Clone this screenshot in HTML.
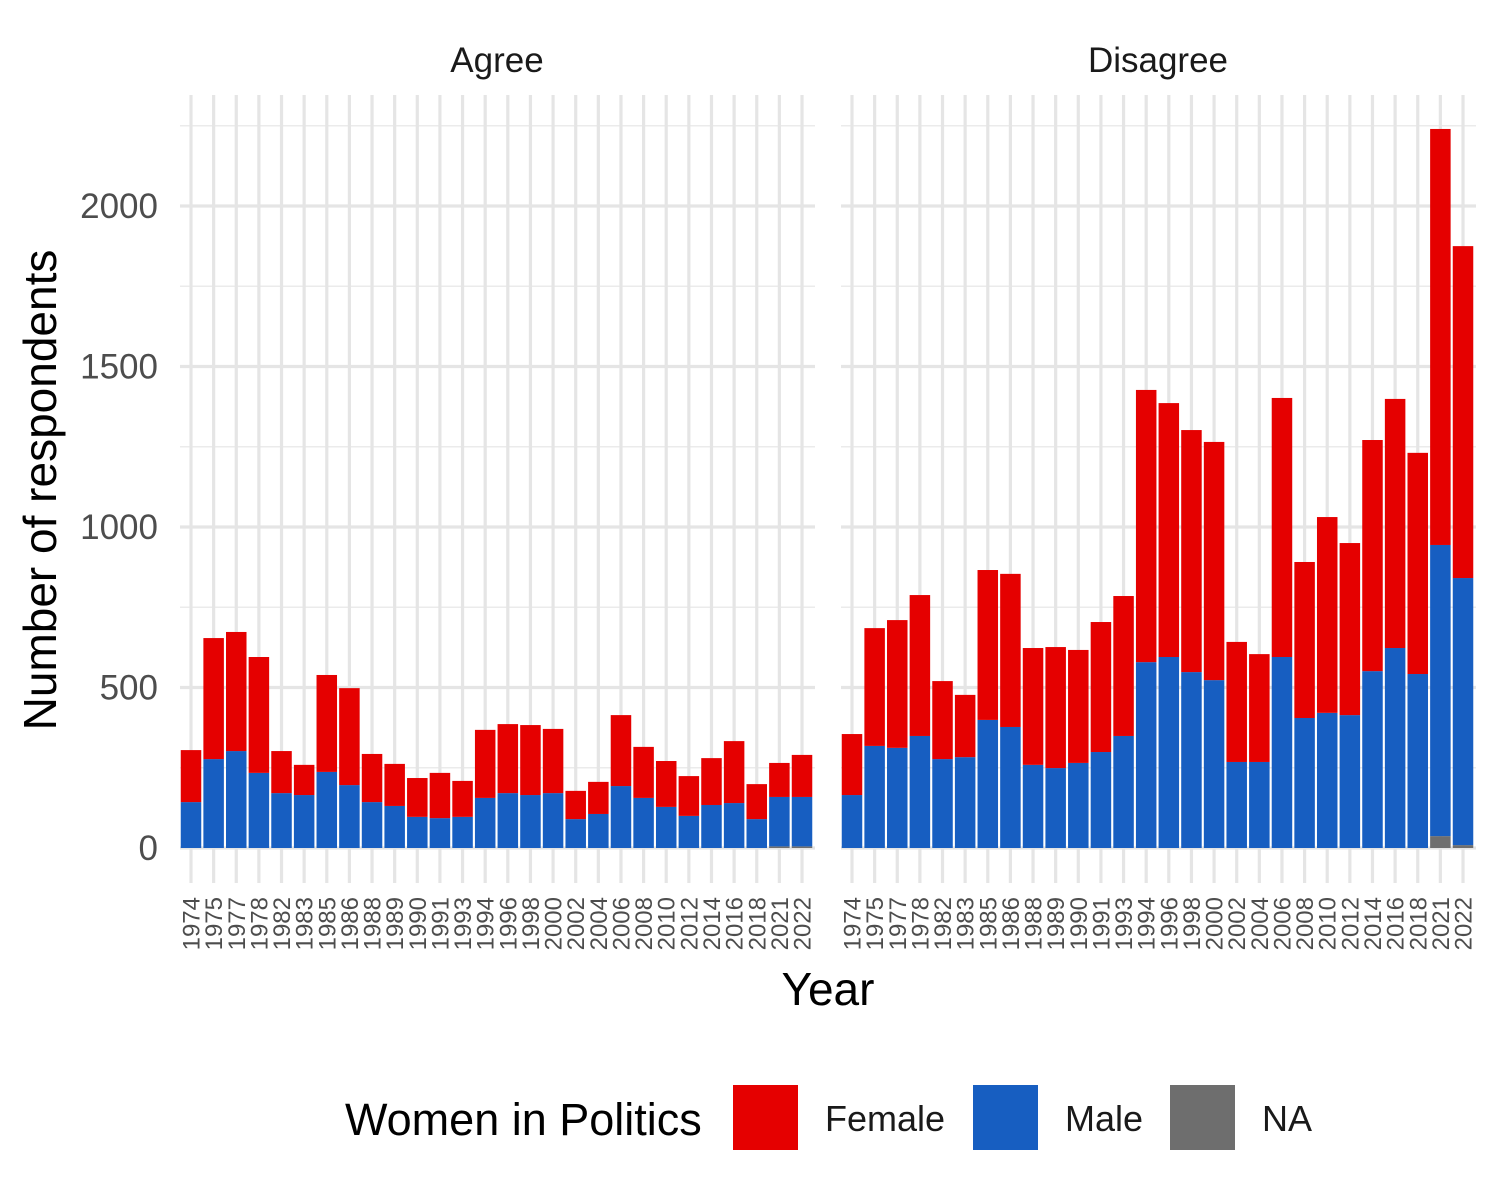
<!DOCTYPE html>
<html><head><meta charset="utf-8"><style>
body{margin:0;background:#fff}
svg{display:block;font-family:"Liberation Sans",Arial,sans-serif}
</style></head><body>
<svg id="chart" width="1500" height="1200" xmlns="http://www.w3.org/2000/svg">
<g id="grid"></g>
<g id="bars"></g>
<g id="axes"></g>
<text x="497" y="72" font-size="35" text-anchor="middle" fill="#1a1a1a">Agree</text>
<text x="1158" y="72" font-size="35" text-anchor="middle" fill="#1a1a1a">Disagree</text>
<text transform="translate(56,490) rotate(-90)" font-size="46" text-anchor="middle" fill="#000">Number of respondents</text>
<text x="828" y="1005" font-size="46" text-anchor="middle" fill="#000">Year</text>
<g>
<text x="345" y="1135" font-size="45" fill="#000">Women in Politics</text>
<rect x="733" y="1085" width="65" height="65" fill="#E50000"/>
<text x="825" y="1131" font-size="36" fill="#1a1a1a">Female</text>
<rect x="973" y="1085" width="65" height="65" fill="#175EC1"/>
<text x="1065" y="1131" font-size="36" fill="#1a1a1a">Male</text>
<rect x="1170" y="1085" width="65" height="65" fill="#6E6E6E"/>
<text x="1262" y="1131" font-size="36" fill="#1a1a1a">NA</text>
</g>
</svg>
<script>
const years=["1974","1975","1977","1978","1982","1983","1985","1986","1988","1989","1990","1991","1993","1994","1996","1998","2000","2002","2004","2006","2008","2010","2012","2014","2016","2018","2021","2022"];
const agreeMale=[143,277,302,234,171,165,237,196,143,131,97,93,97,156,171,165,171,90,106,193,156,128,100,134,140,90,154,154];
const agreeFemale=[162,377,371,361,131,94,302,302,150,131,121,141,112,212,215,218,200,88,100,221,159,143,124,146,193,109,106,131];
const agreeNA=[0,0,0,0,0,0,0,0,0,0,0,0,0,0,0,0,0,0,0,0,0,0,0,0,0,0,5,5];
const disMale=[165,318,312,349,277,283,399,377,259,249,265,299,349,579,595,548,523,268,268,595,405,421,414,551,623,542,907,832];
const disFemale=[190,367,398,439,243,194,467,477,364,377,352,405,436,848,791,754,742,374,336,807,486,610,536,720,776,689,1296,1034];
const disNA=[0,0,0,0,0,0,0,0,0,0,0,0,0,0,0,0,0,0,0,0,0,0,0,0,0,0,37,9];
const yTicks=[0,500,1000,1500,2000];
const yMinor=[250,750,1250,1750,2250];

const NS="http://www.w3.org/2000/svg";
const y0=848, k=0.321;
const yScale=v=>y0-v*k;
const step=22.63, bw=20.5;
const panels=[{x0:191,left:180,right:815,m:agreeMale,f:agreeFemale,n:agreeNA,id:"agree"},
              {x0:852,left:841,right:1476,m:disMale,f:disFemale,n:disNA,id:"disagree"}];
const xScale=(p,i)=>p.x0+i*step;
function mk(tag,attrs,parent){const e=document.createElementNS(NS,tag);for(const a in attrs)e.setAttribute(a,attrs[a]);parent.appendChild(e);return e;}
const grid=document.getElementById("grid"),bars=document.getElementById("bars"),axes=document.getElementById("axes");
panels.forEach(p=>{
  yMinor.forEach(v=>{const l=mk("line",{x1:p.left,x2:p.right,y1:yScale(v),y2:yScale(v),stroke:"#EBEBEB","stroke-width":1.6},grid);
    
    });
  yTicks.forEach(v=>{const l=mk("line",{x1:p.left,x2:p.right,y1:yScale(v),y2:yScale(v),stroke:"#E5E5E5","stroke-width":3.2},grid);
    
    });
  years.forEach((yr,i)=>{
    const cx=xScale(p,i);
    const l=mk("line",{x1:cx,x2:cx,y1:95,y2:883,stroke:"#E5E5E5","stroke-width":3.2},grid);
    
    
    const segs=[[p.n[i],"#6E6E6E","na"],[p.m[i],"#175EC1","male"],[p.f[i],"#E50000","female"]];
    let base=0;
    segs.forEach(s=>{if(s[0]<=0)return;
      const r=mk("rect",{x:cx-bw/2,y:yScale(base+s[0]),width:bw,height:s[0]*k,fill:s[1]},bars);
      
      
      base+=s[0];});
    const t=mk("text",{transform:`translate(${cx+8.5},897) rotate(-90)`,"font-size":24,"text-anchor":"end",fill:"#4D4D4D"},axes);
    t.textContent=yr;
    
    
  });
});
yTicks.forEach(v=>{const t=mk("text",{x:158,y:yScale(v)+12,"font-size":35,"text-anchor":"end",fill:"#4D4D4D"},axes);
  t.textContent=v;
  
  });
</script>
</body></html>
